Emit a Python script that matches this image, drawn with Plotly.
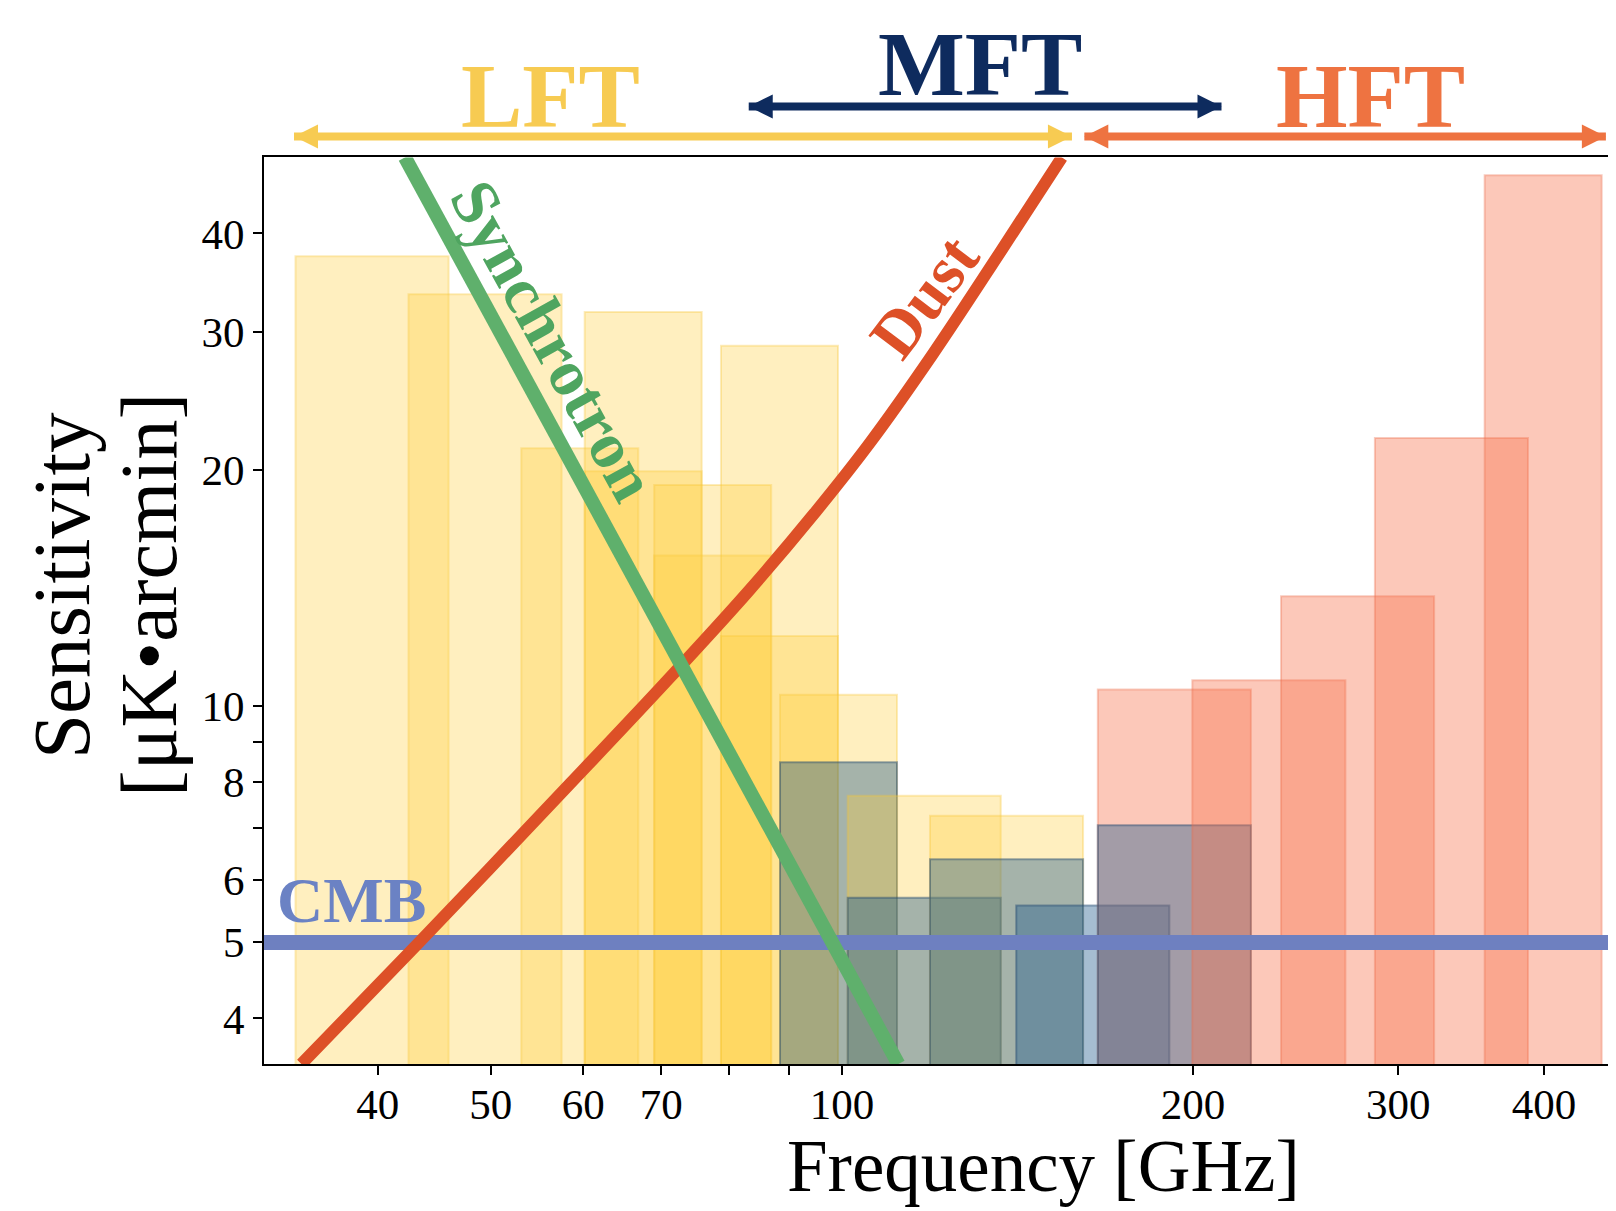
import numpy as np
import plotly.graph_objects as go

# ---------------- data ----------------
# band centres [GHz], fractional bandwidths, sensitivities [uK-arcmin], telescope
band_center = [40, 50, 60, 68, 68, 78, 78, 89, 89, 100, 100, 119, 119, 140, 140, 166,
               195, 195, 235, 280, 337, 402]
band_frac = [0.30, 0.30, 0.23, 0.23, 0.23, 0.23, 0.23, 0.23, 0.23, 0.23, 0.23, 0.30, 0.30,
             0.30, 0.30, 0.30, 0.30, 0.30, 0.30, 0.30, 0.30, 0.23]
band_sens = [37.42, 33.46, 21.31, 19.91, 31.77, 15.55, 19.13, 12.28, 28.77, 10.34, 8.48,
             7.69, 5.70, 7.25, 6.38, 5.57, 10.50, 7.05, 10.79, 13.80, 21.95, 47.45]
band_tel = ["LFT", "LFT", "LFT", "LFT", "LFT", "LFT", "LFT", "LFT", "LFT", "LFT", "MFT",
            "LFT", "MFT", "LFT", "MFT", "MFT", "HFT", "MFT", "HFT", "HFT", "HFT", "HFT"]

# foreground curves
sync_freq = [42.2, 111.8]
sync_sens = [50.0, 3.5]
dust_freq = [34.4, 43.4, 58.5, 70.5, 83.3, 95.0, 105.7, 119.7, 136.6, 154.4]
dust_sens = [3.5, 5.0, 7.97, 10.70, 14.05, 17.7, 21.65, 28.1, 37.8, 50.0]
cmb_freq = [31.95, 461.1]
cmb_sens = [5.0, 5.0]

# telescope frequency-coverage arrows (GHz)
arrow_names = ["LFT", "MFT", "HFT"]
arrow_start = [33.9, 83.2, 161.4]
arrow_end = [157.5, 211.6, 452.0]
label_freq = [56.3, 131.3, 284.2]

# axes
x_range = [31.95, 461.1]
y_range = [3.5, 50.0]
x_tickvals = [40, 50, 60, 70, 80, 90, 100, 200, 300, 400]
x_ticktext = ["40", "50", "60", "70", "", "", "100", "200", "300", "400"]
y_tickvals = [4, 5, 6, 7, 8, 9, 10, 20, 30, 40]
y_ticktext = ["4", "5", "6", "", "8", "", "10", "20", "30", "40"]

# ---------------- style / geometry ----------------
FONT = "Liberation Serif"
tel_fill = {"LFT": "rgba(255,205,60,0.33)",
            "MFT": "rgba(30,90,140,0.40)",
            "HFT": "rgba(247,117,80,0.40)"}
tel_edge = {"LFT": "rgba(245,195,50,0.32)",
            "MFT": "rgba(30,70,110,0.45)",
            "HFT": "rgba(235,110,75,0.35)"}
arrow_color = {"LFT": "#F7CB52", "MFT": "#0E2B5E", "HFT": "#EE7341"}

# page geometry (the page body has an 8px margin)
OFF = 8
PAGE_W, PAGE_H = 1616, 1211
plot_left, plot_right = 264, 1616
plot_top, plot_bottom = 157.4, 1064
W, H = PAGE_W - OFF, PAGE_H - OFF
L = plot_left - OFF
R = 0
T = 0
B = H - (plot_bottom - OFF)
paper_h = H - T - B
ydom_top = 1 - (plot_top - OFF) / paper_h
strip_h = plot_top - OFF


def px_x(px):
    return (px - plot_left) / (plot_right - plot_left)


def px_y(py):
    return (plot_bottom - py) / paper_h


def strip_y(py):
    return (plot_top - py) / strip_h


arrow_level = {"LFT": strip_y(136.5), "MFT": strip_y(106.5), "HFT": strip_y(136.5)}
label_level = {"LFT": strip_y(96), "MFT": strip_y(64), "HFT": strip_y(96)}

fig = go.Figure()

# bars as filled rectangles in data space
for c, bw, s, tel in zip(band_center, band_frac, band_sens, band_tel):
    x0 = c * (1 - bw / 2)
    x1 = c * (1 + bw / 2)
    fig.add_trace(go.Scatter(
        x=[x0, x0, x1, x1, x0], y=[1.0, s, s, 1.0, 1.0],
        mode="lines", fill="toself", fillcolor=tel_fill[tel],
        line=dict(color=tel_edge[tel], width=2),
        hoverinfo="skip", showlegend=False))

# CMB, dust, synchrotron
fig.add_trace(go.Scatter(x=cmb_freq, y=cmb_sens, mode="lines",
                         line=dict(color="#6E80C0", width=15), showlegend=False))
fig.add_trace(go.Scatter(x=dust_freq, y=dust_sens, mode="lines",
                         line=dict(color="#DD5027", width=12, shape="spline",
                                   smoothing=1.0),
                         showlegend=False))
fig.add_trace(go.Scatter(x=sync_freq, y=sync_sens, mode="lines",
                         line=dict(color="#5FB06C", width=14), showlegend=False))

# coverage arrows in the strip above the plot (y2)
for name, a0, a1 in zip(arrow_names, arrow_start, arrow_end):
    lvl = arrow_level[name]
    fig.add_trace(go.Scatter(
        x=[a0, a1], y=[lvl, lvl], yaxis="y2", mode="lines+markers",
        line=dict(color=arrow_color[name], width=8),
        marker=dict(symbol=["arrow-left", "arrow-right"], size=24,
                    color=arrow_color[name], line=dict(width=0)),
        cliponaxis=False, showlegend=False, hoverinfo="skip"))

annotations = []
for name, lf in zip(arrow_names, label_freq):
    annotations.append(dict(
        x=np.log10(lf), y=label_level[name], xref="x", yref="y2",
        text=f"<b>{name}</b>", showarrow=False, xanchor="center", yanchor="middle",
        font=dict(family=FONT, size=92, color=arrow_color[name])))

# curve labels
annotations.append(dict(x=np.log10(37.95), y=np.log10(5.656), xref="x", yref="y",
                        text="<b>CMB</b>", showarrow=False, xanchor="center",
                        yanchor="middle",
                        font=dict(family=FONT, size=64, color="#6B82C4")))
annotations.append(dict(x=np.log10(56.6), y=np.log10(29.24), xref="x", yref="y",
                        text="<b>Synchrotron</b>", showarrow=False, textangle=61,
                        xanchor="center", yanchor="middle",
                        font=dict(family=FONT, size=66, color="#4FA560")))
annotations.append(dict(x=np.log10(117.6), y=np.log10(33.26), xref="x", yref="y",
                        text="<b>Dust</b>", showarrow=False, textangle=-53,
                        xanchor="center", yanchor="middle",
                        font=dict(family=FONT, size=66, color="#DD5027")))

# axis titles
annotations.append(dict(x=px_x(1043), y=px_y(1166),
                        xref="paper", yref="paper", text="Frequency [GHz]",
                        showarrow=False, xanchor="center", yanchor="middle",
                        font=dict(family=FONT, size=73, color="black")))
annotations.append(dict(x=px_x(62), y=px_y(585),
                        xref="paper", yref="paper", text="Sensitivity",
                        showarrow=False, textangle=-90, xanchor="center",
                        yanchor="middle",
                        font=dict(family=FONT, size=81, color="black")))
annotations.append(dict(x=px_x(149), y=px_y(595),
                        xref="paper", yref="paper", text="[\u03bcK\u2022arcmin]",
                        showarrow=False, textangle=-90, xanchor="center",
                        yanchor="middle",
                        font=dict(family=FONT, size=80, color="black")))

axis_common = dict(type="log", showgrid=False, zeroline=False, ticks="outside",
                   ticklen=9, tickwidth=1.5, tickcolor="black", showline=True,
                   linecolor="black", linewidth=2,
                   tickfont=dict(family=FONT, size=43, color="black"))

fig.update_layout(
    width=W, height=H,
    margin=dict(l=L, r=R, t=T, b=B, pad=0),
    paper_bgcolor="white", plot_bgcolor="white",
    showlegend=False,
    font=dict(family=FONT),
    xaxis=dict(range=[np.log10(x_range[0]), np.log10(x_range[1])],
               tickvals=x_tickvals, ticktext=x_ticktext, mirror=True,
               anchor="y", ticklabelstandoff=-8, **axis_common),
    yaxis=dict(range=[np.log10(y_range[0]), np.log10(y_range[1])],
               tickvals=y_tickvals, ticktext=y_ticktext, domain=[0, ydom_top],
               mirror=False, anchor="x", **axis_common),
    yaxis2=dict(domain=[ydom_top, 1], range=[0, 1], visible=False, anchor="x",
                fixedrange=True),
    annotations=annotations,
)

fig.write_html("out.html")
